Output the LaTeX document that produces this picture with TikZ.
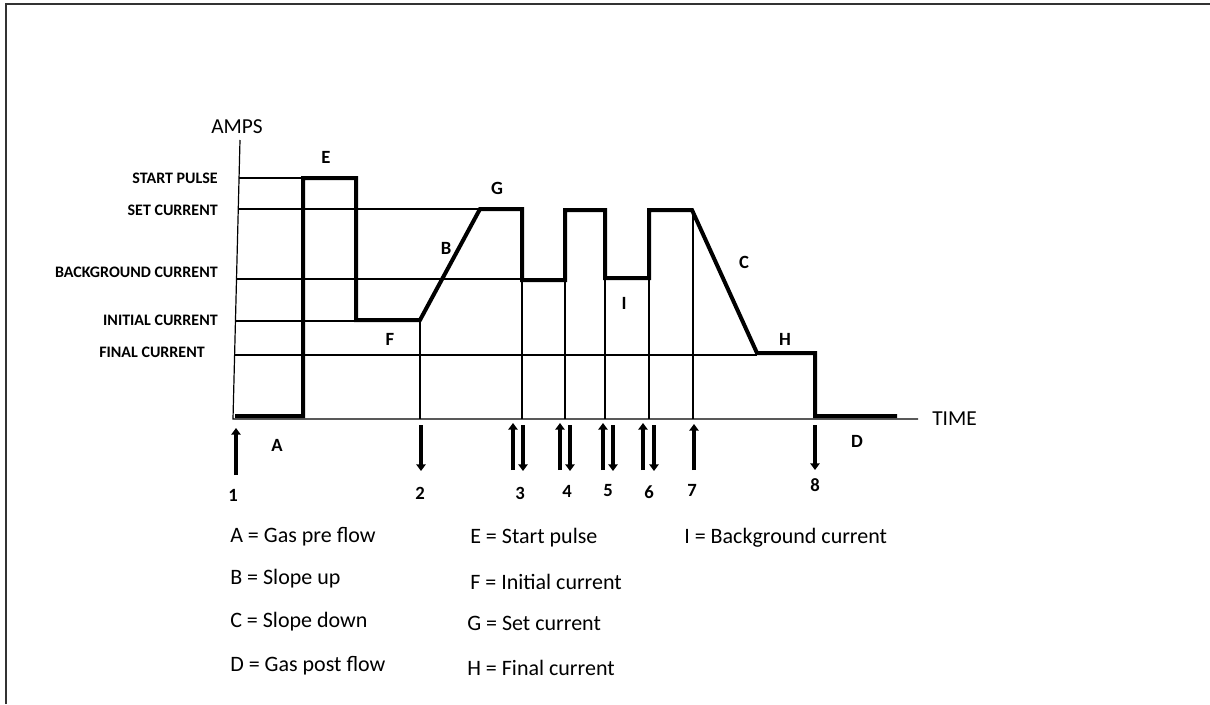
\documentclass[tikz,border=0pt]{standalone}
\usepackage{fontspec}
\setmainfont{Carlito}
\usetikzlibrary{arrows.meta}
\begin{document}
\begin{tikzpicture}[x=0.75pt,y=-0.75pt,
  wave/.style={line width=3pt, line join=miter},
  guide/.style={line width=0.9pt},
  evup/.style={line width=3pt,-{Triangle[width=7pt,length=5pt]}},
  lvl/.style={font=\bfseries\fontsize{12}{14}\selectfont, anchor=east, inner sep=0},
  seg/.style={font=\bfseries\fontsize{14}{16}\selectfont, inner sep=0},
  num/.style={font=\bfseries\fontsize{14}{16}\selectfont, inner sep=0},
  leg/.style={font=\fontsize{16.5}{19}\selectfont, anchor=west, inner sep=0},
  axlab/.style={font=\fontsize{16}{19}\selectfont, inner sep=0}]
\useasboundingbox (0,0) rectangle (1210,704);
\draw[line width=1.5pt, black!80] (6,704) -- (6,4) -- (1210,4);

% axes
\coordinate (ytop) at (240,140);
\coordinate (orig) at (233,419);
\coordinate (xend) at (918,419);
\draw[guide] (ytop) -- (orig) -- (xend);
\node[axlab] (amps) at (237,127) {AMPS};
\node[axlab, anchor=west] (time) at (932,419) {TIME};

% level guides
\draw[guide] (239.3,178) -- (303,178);
\draw[guide] (238.5,209) -- (480,209);
\draw[guide] (237.3,279) -- (522,279);
\draw[guide] (236.3,321) -- (356,321);
\draw[guide] (235.4,355) -- (757,355);

% vertical guides
\foreach \x/\y in {420/320,522/280,565/280,605/278,649/278,693/210}
  \draw[guide] (\x,\y) -- (\x,419);

% level labels
\node[lvl] (lsp) at (218,178) {START PULSE};
\node[lvl] (lsc) at (218,210) {SET CURRENT};
\node[lvl] (lbc) at (218,272) {BACKGROUND CURRENT};
\node[lvl] (lic) at (218,320) {INITIAL CURRENT};
\node[lvl] (lfc) at (205,352) {FINAL CURRENT};

% waveform
\draw[wave] (235,416) -- (303,416) -- (303,178) -- (356,178) -- (356,320) -- (420,320)
  -- (480,209) -- (522,209) -- (522,280) -- (565,280) -- (565,210) -- (605,210)
  -- (605,278) -- (649,278) -- (649,210) -- (692,210) -- (757,353) -- (815,353)
  -- (815,416) -- (897,416);

% segment letters
\node[seg] (sE) at (326,157) {E};
\node[seg] (sG) at (497,188) {G};
\node[seg] (sB) at (446,248) {B};
\node[seg] (sC) at (744,262) {C};
\node[seg] (sF) at (390,339) {F};
\node[seg] (sI) at (624,303) {I};
\node[seg] (sH) at (785,339) {H};
\node[seg] (sA) at (277,445) {A};
\node[seg] (sD) at (857,441) {D};

% event arrows
\draw[evup] (236,475) -- (236,428);
\draw[evup] (421,425) -- (421,471);
\foreach \u/\d in {513/523,560/570,603/613,643/654}{
  \draw[evup] (\u,470) -- (\u,423);
  \draw[evup] (\d,425) -- (\d,471);
}
\draw[evup] (694,470) -- (694,424);
\draw[evup] (815,425) -- (815,470);

% event numbers
\node[num] (n1) at (233,495) {1};
\node[num] (n2) at (420,493) {2};
\node[num] (n3) at (520,493) {3};
\node[num] (n4) at (567,491) {4};
\node[num] (n5) at (608,491) {5};
\node[num] (n6) at (649,492) {6};
\node[num] (n7) at (692,490) {7};
\node[num] (n8) at (815,485) {8};

% legend
\node[leg] (gA) at (230,537) {A = Gas pre flow};
\node[leg] (gB) at (230,579) {B = Slope up};
\node[leg] (gC) at (230,622) {C = Slope down};
\node[leg] (gD) at (230,666) {D = Gas post flow};
\node[leg] (gE) at (470,538) {E = Start pulse};
\node[leg] (gF) at (470,582) {F = Initial current};
\node[leg] (gG) at (467,623) {G = Set current};
\node[leg] (gH) at (467,668) {H = Final current};
\node[leg] (gI) at (684,538) {I = Background current};
\end{tikzpicture}
\end{document}
